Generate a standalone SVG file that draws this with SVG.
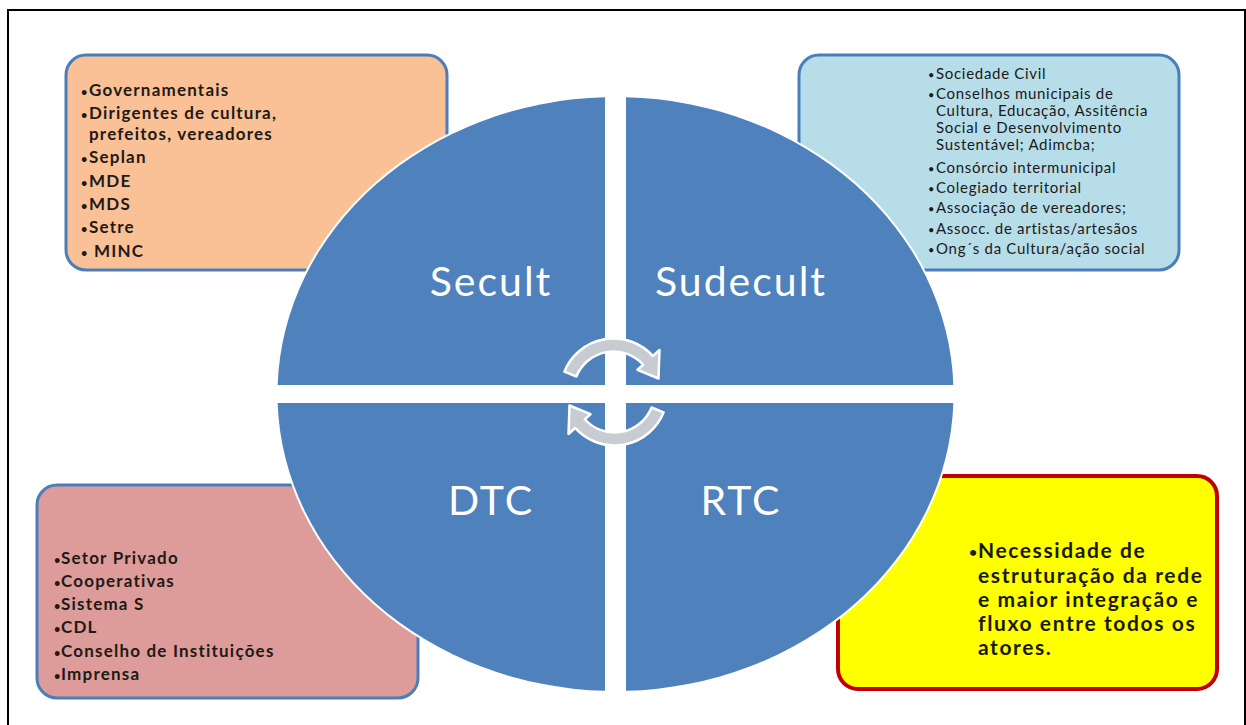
<svg xmlns="http://www.w3.org/2000/svg" width="1246" height="725" viewBox="0 0 1246 725">
  <style>
    .box-blue { stroke: #4a7ebb; stroke-width: 3; }
    .box-red { stroke: #c00000; stroke-width: 4; }
    .quad { fill: #4f81bd; }
    .label { font-family: Lato, "Liberation Sans", sans-serif; font-size: 41px; fill: #ffffff; text-anchor: middle; letter-spacing: 2px; }
    .item-b { font-family: Lato, "Liberation Sans", sans-serif; font-weight: bold; font-size: 17px; fill: #1e1a16; letter-spacing: 1.2px; }
    .item-r { font-family: Lato, "Liberation Sans", sans-serif; font-size: 15px; fill: #1a1a1a; letter-spacing: 0.7px; }
    .item-big { font-family: Lato, "Liberation Sans", sans-serif; font-weight: bold; font-size: 21px; fill: #1a1a00; letter-spacing: 1.6px; }
    .dot { font-size: 11px; letter-spacing: 0; }
    .dot-big { font-size: 14px; letter-spacing: 0; }
    .cycle { fill: #c7cbd2; stroke: #ffffff; stroke-width: 2.5; stroke-linejoin: round; }
  </style>
  <defs>
    <!-- curved arrow around the hub: thick arc with a wedge head -->
    <path id="bent-arrow" d="M564.36,371.65 A53,53 0 0 1 652.89,356.04 L659.5,350 L658.5,378.5 L637.5,369.8 L643.22,364.73 A40,40 0 0 0 576.41,376.52 Z"/>
  </defs>

  <rect width="1246" height="725" fill="#ffffff"/>
  <!-- outer frame -->
  <path d="M8,726 L8,10 L1245,10 L1245,726" fill="none" stroke="#000000" stroke-width="2"/>

  <!-- corner boxes -->
  <g id="box-governamentais">
    <rect class="box-blue" x="66" y="55" width="381" height="215" rx="20" fill="#fac096"/>
    <text class="item-b">
      <tspan class="dot" x="81" y="96">•</tspan><tspan x="89" y="96">Governamentais</tspan>
      <tspan class="dot" x="81" y="118.5">•</tspan><tspan x="89" y="118.5">Dirigentes de cultura,</tspan>
      <tspan x="89" y="139.5">prefeitos, vereadores</tspan>
      <tspan class="dot" x="81" y="163">•</tspan><tspan x="89" y="163">Seplan</tspan>
      <tspan class="dot" x="81" y="186.5">•</tspan><tspan x="89" y="186.5">MDE</tspan>
      <tspan class="dot" x="81" y="210">•</tspan><tspan x="89" y="210">MDS</tspan>
      <tspan class="dot" x="81" y="233">•</tspan><tspan x="89" y="233">Setre</tspan>
      <tspan class="dot" x="81" y="256.5">•</tspan><tspan x="94" y="256.5">MINC</tspan>
    </text>
  </g>

  <g id="box-sociedade-civil">
    <rect class="box-blue" x="799" y="55" width="380" height="215" rx="20" fill="#b7dde8"/>
    <text class="item-r">
      <tspan class="dot" x="928" y="79">•</tspan><tspan x="936" y="79">Sociedade Civil</tspan>
      <tspan class="dot" x="928" y="99">•</tspan><tspan x="936" y="99">Conselhos municipais de</tspan>
      <tspan x="936" y="116">Cultura, Educação, Assitência</tspan>
      <tspan x="936" y="133">Social e Desenvolvimento</tspan>
      <tspan x="936" y="150">Sustentável; Adimcba;</tspan>
      <tspan class="dot" x="928" y="173">•</tspan><tspan x="936" y="173">Consórcio intermunicipal</tspan>
      <tspan class="dot" x="928" y="193">•</tspan><tspan x="936" y="193">Colegiado territorial</tspan>
      <tspan class="dot" x="928" y="213">•</tspan><tspan x="936" y="213">Associação de vereadores;</tspan>
      <tspan class="dot" x="928" y="234">•</tspan><tspan x="936" y="234">Assocc. de artistas/artesãos</tspan>
      <tspan class="dot" x="928" y="254">•</tspan><tspan x="936" y="254">Ong´s da Cultura/ação social</tspan>
    </text>
  </g>

  <g id="box-setor-privado">
    <rect class="box-blue" x="37" y="485" width="381" height="213" rx="20" fill="#dd9c9a"/>
    <text class="item-b">
      <tspan class="dot" x="54" y="564">•</tspan><tspan x="61" y="564">Setor Privado</tspan>
      <tspan class="dot" x="54" y="587">•</tspan><tspan x="61" y="587">Cooperativas</tspan>
      <tspan class="dot" x="54" y="610">•</tspan><tspan x="61" y="610">Sistema S</tspan>
      <tspan class="dot" x="54" y="633">•</tspan><tspan x="61" y="633">CDL</tspan>
      <tspan class="dot" x="54" y="657">•</tspan><tspan x="61" y="657">Conselho de Instituições</tspan>
      <tspan class="dot" x="54" y="680">•</tspan><tspan x="61" y="680">Imprensa</tspan>
    </text>
  </g>

  <g id="box-necessidade">
    <rect class="box-red" x="838" y="476" width="379" height="213" rx="20" fill="#ffff00"/>
    <text class="item-big">
      <tspan class="dot-big" x="969" y="557">•</tspan><tspan x="978" y="558">Necessidade de</tspan>
      <tspan x="978" y="583">estruturação da rede</tspan>
      <tspan x="978" y="607">e maior integração e</tspan>
      <tspan x="978" y="631">fluxo entre todos os</tspan>
      <tspan x="978" y="655">atores.</tspan>
    </text>
  </g>

  <!-- white rim under the four quadrants -->
  <ellipse cx="615.5" cy="394" rx="340" ry="299" fill="#ffffff"/>

  <g id="quad-secult">
    <path class="quad" d="M605,385 L605,97.14 A338,297 0 0 0 277.66,385 Z"/>
    <text class="label" x="491" y="296">Secult</text>
  </g>
  <g id="quad-sudecult">
    <path class="quad" d="M626,385 L953.34,385 A338,297 0 0 0 626,97.14 Z"/>
    <text class="label" x="741" y="296">Sudecult</text>
  </g>
  <g id="quad-dtc">
    <path class="quad" d="M605,403 L277.66,403 A338,297 0 0 0 605,690.86 Z"/>
    <text class="label" x="491" y="515">DTC</text>
  </g>
  <g id="quad-rtc">
    <path class="quad" d="M626,403 L626,690.86 A338,297 0 0 0 953.34,403 Z"/>
    <text class="label" x="741" y="515">RTC</text>
  </g>

  <!-- cycle arrows in the hub -->
  <g id="connectors">
    <use href="#bent-arrow" class="cycle"/>
    <use href="#bent-arrow" class="cycle" transform="rotate(180 614 392)"/>
  </g>
</svg>
